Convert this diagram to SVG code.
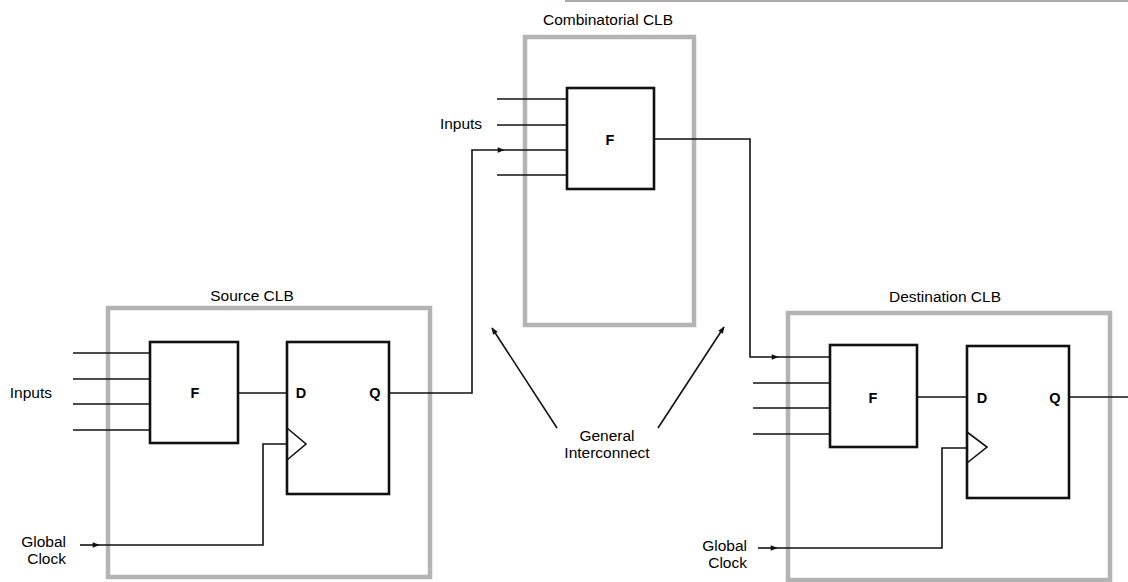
<svg xmlns="http://www.w3.org/2000/svg" width="1128" height="582" viewBox="0 0 1128 582">
<style>
text{font-family:"Liberation Sans",Arial,sans-serif;font-size:15.5px;fill:#000}
.lbl{text-anchor:middle}
.pin{font-weight:bold;font-size:14.5px;text-anchor:middle}
.clb{fill:none;stroke:#b4b4b4;stroke-width:4.5}
.blk{fill:#fff;stroke:#111;stroke-width:2.6}
.w{fill:none;stroke:#111;stroke-width:1.6}
</style>
<defs>
<marker id="ah" viewBox="0 0 10 10" refX="9" refY="5" markerWidth="9" markerHeight="7" markerUnits="userSpaceOnUse" orient="auto">
<path d="M0,1 L10,5 L0,9 z" fill="#111"/>
</marker>
</defs>
<rect width="1128" height="582" fill="#fff"/>
<line x1="565" y1="1" x2="1128" y2="1" stroke="#555" stroke-width="1.2"/>

<g id="source-clb">
<rect class="clb" x="108" y="308" width="322" height="269"/>
<text class="lbl" x="252" y="301">Source CLB</text>
<text x="52" y="398" text-anchor="end">Inputs</text>
<text x="66" y="547" text-anchor="end">Global</text>
<text x="66" y="564" text-anchor="end">Clock</text>
<g id="source-f">
<rect class="blk" x="150" y="342" width="88" height="101"/>
<text class="pin" x="195" y="398">F</text>
</g>
<g id="source-ff">
<rect class="blk" x="287" y="342" width="102" height="152"/>
<path class="w" d="M287,428 L306,444 L287,460"/>
<text class="pin" x="301" y="398">D</text>
<text class="pin" x="375" y="398">Q</text>
</g>
</g>

<g id="comb-clb">
<rect class="clb" x="525" y="37" width="169" height="288"/>
<text class="lbl" x="608" y="25">Combinatorial CLB</text>
<text class="lbl" x="461" y="129">Inputs</text>
<g id="comb-f">
<rect class="blk" x="567" y="88" width="87" height="101"/>
<text class="pin" x="610" y="145">F</text>
</g>
</g>

<g id="dest-clb">
<rect class="clb" x="788" y="313" width="322" height="267"/>
<text class="lbl" x="945" y="302">Destination CLB</text>
<text x="747" y="551" text-anchor="end">Global</text>
<text x="747" y="568" text-anchor="end">Clock</text>
<g id="dest-f">
<rect class="blk" x="830" y="345" width="87" height="102"/>
<text class="pin" x="873" y="403">F</text>
</g>
<g id="dest-ff">
<rect class="blk" x="967" y="346" width="102" height="152"/>
<path class="w" d="M967,432 L987,447 L967,463"/>
<text class="pin" x="982" y="403">D</text>
<text class="pin" x="1055" y="403">Q</text>
</g>
</g>

<g id="interconnect-label">
<text class="lbl" x="607" y="441">General</text>
<text class="lbl" x="607" y="458">Interconnect</text>
</g>

<g id="connectors">
<line class="w" x1="73" y1="353" x2="150" y2="353"/>
<line class="w" x1="73" y1="379" x2="150" y2="379"/>
<line class="w" x1="73" y1="404" x2="150" y2="404"/>
<line class="w" x1="73" y1="430" x2="150" y2="430"/>
<line class="w" x1="238" y1="393" x2="287" y2="393"/>
<line class="w" x1="80" y1="545" x2="99" y2="545" marker-end="url(#ah)"/>
<path class="w" d="M99,545 L263,545 L263,444 L287,444"/>
<path class="w" d="M389,393 L472,393 L472,150 L504,150" marker-end="url(#ah)"/>
<line class="w" x1="504" y1="150" x2="567" y2="150"/>
<line class="w" x1="497" y1="99" x2="567" y2="99"/>
<line class="w" x1="497" y1="125" x2="567" y2="125"/>
<line class="w" x1="497" y1="175" x2="567" y2="175"/>
<path class="w" d="M654,139 L750,139 L750,357 L778,357" marker-end="url(#ah)"/>
<line class="w" x1="778" y1="357" x2="830" y2="357"/>
<line class="w" x1="753" y1="383" x2="830" y2="383"/>
<line class="w" x1="753" y1="408" x2="830" y2="408"/>
<line class="w" x1="753" y1="434" x2="830" y2="434"/>
<line class="w" x1="917" y1="397" x2="967" y2="397"/>
<line class="w" x1="1069" y1="397" x2="1128" y2="397"/>
<line class="w" x1="758" y1="548" x2="777" y2="548" marker-end="url(#ah)"/>
<path class="w" d="M777,548 L942,548 L942,448 L967,448"/>
<line class="w" x1="557" y1="428" x2="492" y2="328" marker-end="url(#ah)"/>
<line class="w" x1="658" y1="428" x2="724" y2="327" marker-end="url(#ah)"/>
</g>
</svg>
